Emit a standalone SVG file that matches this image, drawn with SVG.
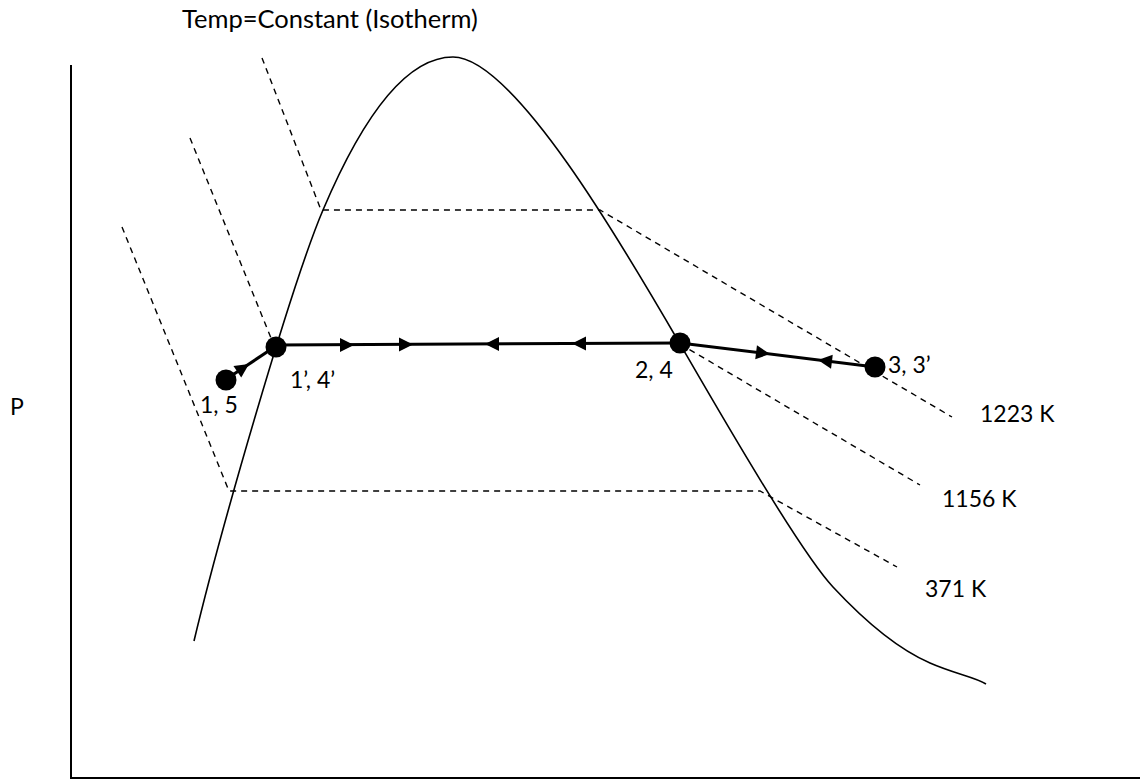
<svg xmlns="http://www.w3.org/2000/svg" width="1140" height="782" viewBox="0 0 1140 782">
<style>
text{font-family:Lato,"Open Sans","Liberation Sans",sans-serif;font-size:23px;fill:#000}
.title{font-size:25.5px}
.axis{stroke:#000;stroke-width:2;fill:none}
.curve{stroke:#000;stroke-width:1.6;fill:none}
.iso{stroke:#000;stroke-width:1.4;fill:none;stroke-dasharray:6 5}
.proc{stroke:#000;stroke-width:3;fill:none}
</style>
<defs>
<polygon id="ah" points="0,0 -14,-7 -14,7" fill="#000"/>
</defs>
<g id="axes">
<line class="axis" x1="71" y1="65" x2="71" y2="778"/>
<line class="axis" x1="70" y1="778" x2="1140" y2="778"/>
</g>
<g id="dome">
<path class="curve" d="M194,641 C219,536 290.5,286.5 323,210 Q388,57 453,57 C513,57 622,244 680,344 C714.8,404 799,550.5 833,587 C867,623.5 900,650 930,663 C955,674 975,677 986,684"/>
</g>
<g id="connectors">
<polyline id="iso1223" class="iso" points="262,58 321,210 600,210 952,417"/>
<polyline id="iso1156" class="iso" points="190,138 273,343"/>
<line class="iso" x1="680" y1="344" x2="920" y2="485"/>
<polyline id="iso371" class="iso" points="122,227 229,491 760,491 897,567"/>
<g id="process">
<line class="proc" x1="225" y1="380" x2="276" y2="346"/>
<line class="proc" x1="276" y1="345" x2="680" y2="343"/>
<line class="proc" x1="680" y1="343" x2="875" y2="367"/>
<use href="#ah" transform="translate(249,364) rotate(-33.7)"/>
<use href="#ah" transform="translate(354,345) rotate(0)"/>
<use href="#ah" transform="translate(413,344.5) rotate(0)"/>
<use href="#ah" transform="translate(485,344) rotate(180)"/>
<use href="#ah" transform="translate(572,343.5) rotate(180)"/>
<use href="#ah" transform="translate(770,354) rotate(7)"/>
<use href="#ah" transform="translate(818,360) rotate(187)"/>
</g>
</g>
<g id="node-15"><circle cx="226" cy="380" r="10.5"/><text x="200" y="413">1, 5</text></g>
<g id="node-14p"><circle cx="276" cy="347" r="10.5"/><text x="290" y="388">1’, 4’</text></g>
<g id="node-24"><circle cx="680" cy="343" r="10.5"/><text x="635" y="378">2, 4</text></g>
<g id="node-33p"><circle cx="875" cy="367" r="10.5"/><text x="888" y="373">3, 3’</text></g>
<g id="labels">
<text class="title" x="182" y="28">Temp=Constant (Isotherm)</text>
<text x="10" y="415">P</text>
<text x="980" y="422">1223 K</text>
<text x="942" y="507">1156 K</text>
<text x="925" y="597">371 K</text>
</g>
</svg>
